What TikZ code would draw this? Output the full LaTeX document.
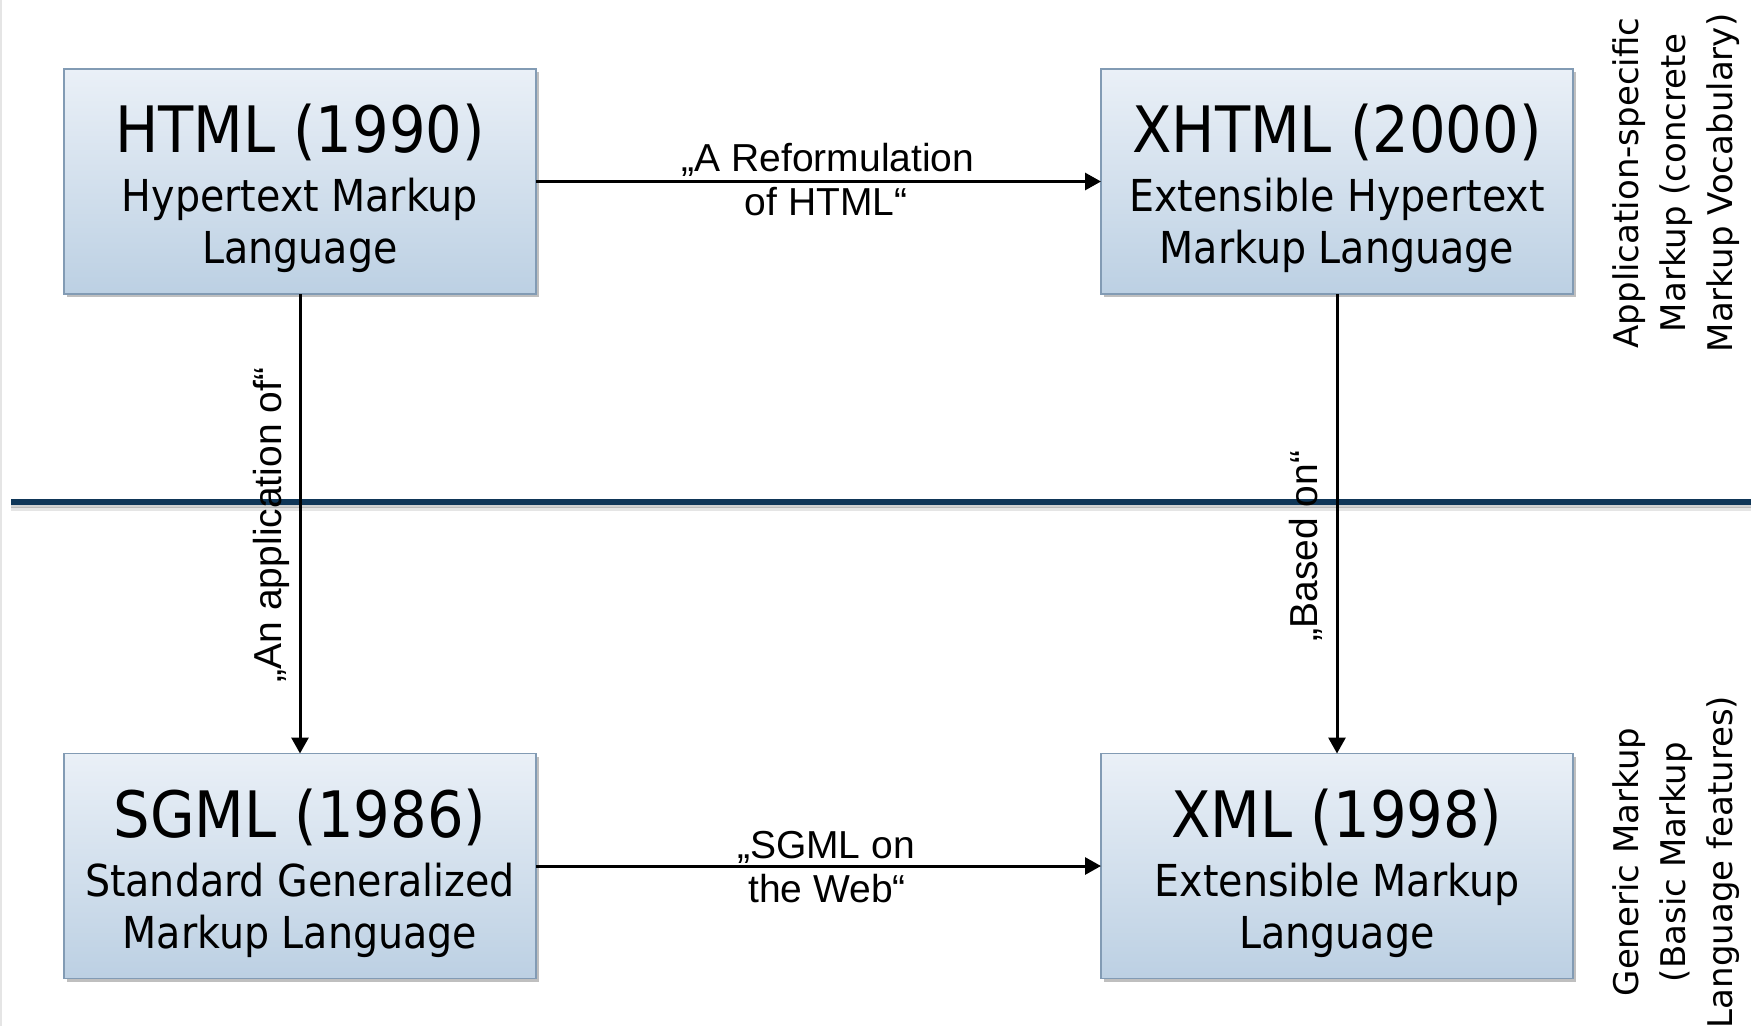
\documentclass[tikz,border=0pt]{standalone}
\usepackage{fontspec}
\setmainfont{DejaVu Sans}
\newfontfamily\boxfont{DejaVu Sans Condensed}
\newfontfamily\lblfont{Liberation Sans}
\usetikzlibrary{arrows.meta,shadows}

\definecolor{sepblue}{RGB}{15,54,88}
\definecolor{boxtop}{RGB}{234,240,247}
\definecolor{boxbot}{RGB}{188,208,227}
\definecolor{boxedge}{RGB}{130,155,180}

\tikzset{
  mlbox/.style={draw=boxedge, line width=1.5pt, top color=boxtop, bottom color=boxbot,
    minimum width=472pt, minimum height=225pt, inner sep=0pt, outer sep=0pt,
    drop shadow={shadow xshift=3pt, shadow yshift=-3pt, opacity=0.25, fill=black}},
  boxtitle/.style={font=\boxfont\fontsize{64}{64}\selectfont, anchor=base, inner sep=0pt},
  boxsub/.style={font=\boxfont\fontsize{44}{44}\selectfont, anchor=base, inner sep=0pt},
  rel/.style={line width=3pt, -{Triangle[length=16pt,width=17pt]}},
  rellbl/.style={font=\lblfont\fontsize{39}{39}\selectfont, anchor=base, inner sep=0pt},
  sidelbl/.style={font=\fontsize{34}{34}\selectfont, anchor=base, inner sep=0pt, rotate=90},
}

\begin{document}
\begin{tikzpicture}[x=1pt,y=-1pt]
\useasboundingbox (0,0) rectangle (1751,1026);
\fill[white] (0,0) rectangle (1751,1026);
\draw[gray!20, line width=1.5pt] (1,0) -- (1,1026);

% separator with shadow
\coordinate (sepL) at (11,502);
\coordinate (sepR) at (1751,502);
\draw[black, opacity=0.10, line width=4pt] ([yshift=-7pt]sepL) -- ([yshift=-7pt]sepR);
\draw[black, opacity=0.18, line width=3pt] ([yshift=-4.5pt]sepL) -- ([yshift=-4.5pt]sepR);
\draw[sepblue, line width=5.5pt] (sepL) -- (sepR);

% boxes
\node[mlbox] (html) at (300,181.5) {};
\node[mlbox] (xhtml) at (1337,181.5) {};
\node[mlbox] (sgml) at (300,866) {};
\node[mlbox] (xml) at (1337,866) {};

\node[boxtitle] (htmlT) at (300,152) {HTML (1990)};
\node[boxsub] (htmlS1) at (300,211) {Hypertext Markup};
\node[boxsub] (htmlS2) at (300,263) {Language};

\node[boxtitle] (xhtmlT) at (1337,152) {XHTML (2000)};
\node[boxsub] (xhtmlS1) at (1337,211) {Extensible Hypertext};
\node[boxsub] (xhtmlS2) at (1337,263) {Markup Language};

\node[boxtitle] (sgmlT) at (300,837) {SGML (1986)};
\node[boxsub] (sgmlS1) at (300,896) {Standard Generalized};
\node[boxsub] (sgmlS2) at (300,948) {Markup Language};

\node[boxtitle] (xmlT) at (1337,837) {XML (1998)};
\node[boxsub] (xmlS1) at (1337,896) {Extensible Markup};
\node[boxsub] (xmlS2) at (1337,948) {Language};

% connectors
\draw[rel] (html.east) -- (xhtml.west);
\draw[rel] (sgml.east) -- (xml.west);
\draw[rel] (html.south) -- (sgml.north);
\draw[rel] (xhtml.south) -- (xml.north);

% connector labels
\node[rellbl] (l1a) at (828,171) {„A Reformulation};
\node[rellbl] (l1b) at (826,215) {of HTML“};
\node[rellbl] (l2a) at (826,858) {„SGML on};
\node[rellbl] (l2b) at (827,902) {the Web“};
\node[rellbl, rotate=90] (l3) at (281,525) {„An application of“};
\node[rellbl, rotate=90] (l4) at (1317,546) {„Based on“};

% side labels
\node[sidelbl] (s1a) at (1638,183) {Application-specific};
\node[sidelbl] (s1b) at (1685,183) {Markup (concrete};
\node[sidelbl] (s1c) at (1732,183) {Markup Vocabulary)};
\node[sidelbl] (s2a) at (1638,862) {Generic Markup};
\node[sidelbl] (s2b) at (1685,862) {(Basic Markup};
\node[sidelbl] (s2c) at (1732,862) {Language features)};
\end{tikzpicture}
\end{document}
